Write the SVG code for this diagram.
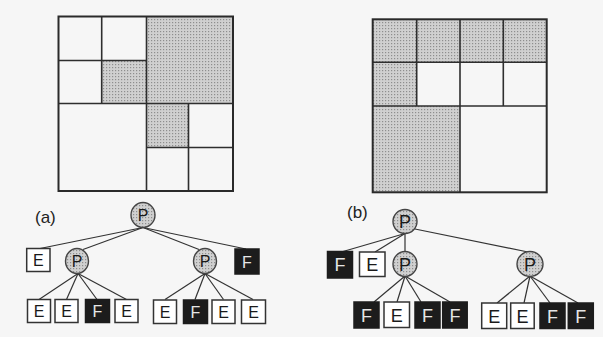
<svg xmlns="http://www.w3.org/2000/svg" width="603" height="337" viewBox="0 0 603 337">
<defs>
<pattern id="dots" width="3" height="3" patternUnits="userSpaceOnUse">
<rect width="3" height="3" fill="#d0d0d0"/>
<rect x="1" y="1" width="1.2" height="1.2" fill="#8e8e8e"/>
</pattern>
<style>
.shade{fill:url(#dots);stroke:none}
.gl{stroke:#2e2e2e;stroke-width:1.6;fill:none}
.go{stroke:#2a2a2a;stroke-width:2;fill:none}
.e rect{fill:#ffffff;stroke:#333;stroke-width:1.5}
.f rect{fill:#1c1c1c;stroke:#1c1c1c;stroke-width:1.5}
.p ellipse{fill:url(#dots);stroke:#444;stroke-width:1.4}
.e text{fill:#1a1a1a}
.f text{fill:#e6e6e6}
.p text{fill:#1a1a1a}
text{font-family:"Liberation Sans",Arial,sans-serif;text-anchor:middle}
.ta text{font-size:16px}
.tb text{font-size:18px}
.lbl{font-size:17px;text-anchor:start;fill:#222}
#connectors line{stroke:#333;stroke-width:1.2}
</style>
</defs>
<rect width="603" height="337" fill="#f6f6f6"/>

<g id="grid-a">
<rect class="shade" x="101.7" y="60.5" width="44.8" height="43"/>
<rect class="shade" x="146.5" y="16.5" width="86.5" height="87"/>
<rect class="shade" x="146.5" y="103.5" width="42" height="44"/>
<line class="gl" x1="58.5" y1="103.5" x2="233" y2="103.5"/>
<line class="gl" x1="146.5" y1="16.5" x2="146.5" y2="191"/>
<line class="gl" x1="101.7" y1="16.5" x2="101.7" y2="103.5"/>
<line class="gl" x1="58.5" y1="60.5" x2="146.5" y2="60.5"/>
<line class="gl" x1="188.5" y1="103.5" x2="188.5" y2="191"/>
<line class="gl" x1="146.5" y1="147.5" x2="233" y2="147.5"/>
<rect class="go" x="58.5" y="16.5" width="174.5" height="174.5"/>
</g>

<g id="grid-b">
<rect class="shade" x="372.7" y="19.3" width="174" height="43"/>
<rect class="shade" x="372.7" y="62.3" width="44" height="43.7"/>
<rect class="shade" x="372.7" y="106" width="87.3" height="86.3"/>
<line class="gl" x1="372.7" y1="62.3" x2="546.7" y2="62.3"/>
<line class="gl" x1="372.7" y1="106" x2="546.7" y2="106"/>
<line class="gl" x1="460" y1="19.3" x2="460" y2="192.3"/>
<line class="gl" x1="416.7" y1="19.3" x2="416.7" y2="106"/>
<line class="gl" x1="503.3" y1="19.3" x2="503.3" y2="106"/>
<rect class="go" x="372.7" y="19.3" width="174" height="173"/>
</g>

<text class="lbl" x="35" y="223">(a)</text>
<text class="lbl" x="347" y="218">(b)</text>

<g id="connectors">
<line x1="143" y1="227.5" x2="40" y2="248.5"/>
<line x1="143" y1="227.5" x2="83" y2="249.5"/>
<line x1="143" y1="227.5" x2="199" y2="249.5"/>
<line x1="143" y1="227.5" x2="246" y2="249"/>
<line x1="78" y1="273.5" x2="39" y2="299.5"/>
<line x1="78" y1="273.5" x2="66.5" y2="299.5"/>
<line x1="78" y1="273.5" x2="97" y2="299.5"/>
<line x1="78" y1="273.5" x2="126.5" y2="299.5"/>
<line x1="205" y1="273.5" x2="165" y2="299.5"/>
<line x1="205" y1="273.5" x2="195" y2="299.5"/>
<line x1="205" y1="273.5" x2="223.5" y2="299.5"/>
<line x1="205" y1="273.5" x2="253" y2="299.5"/>
<line x1="405" y1="233.5" x2="343" y2="251.5"/>
<line x1="405" y1="233.5" x2="375" y2="252"/>
<line x1="405" y1="233.5" x2="405" y2="252"/>
<line x1="415" y1="229" x2="528" y2="252"/>
<line x1="405" y1="276" x2="374" y2="302"/>
<line x1="405" y1="276" x2="397" y2="302"/>
<line x1="405" y1="276" x2="421" y2="302"/>
<line x1="405" y1="276" x2="450" y2="302"/>
<line x1="530" y1="276" x2="497" y2="303"/>
<line x1="530" y1="276" x2="524" y2="303"/>
<line x1="530" y1="276" x2="550" y2="303"/>
<line x1="530" y1="276" x2="578" y2="303"/>
</g>

<g class="ta">
<g id="a-root" class="p"><ellipse cx="143" cy="215" rx="12" ry="12.5"/><text x="143" y="221">P</text></g>
<g id="a-e1" class="e"><rect x="26.7" y="248.5" width="23.3" height="23"/><text x="38.3" y="266">E</text></g>
<g id="a-p1" class="p"><ellipse cx="77" cy="261" rx="11.5" ry="12.5"/><text x="77" y="267">P</text></g>
<g id="a-p2" class="p"><ellipse cx="205" cy="261" rx="11.5" ry="12.5"/><text x="205" y="267">P</text></g>
<g id="a-f1" class="f"><rect x="235" y="249" width="24" height="25"/><text x="247" y="267.5">F</text></g>
<g id="a-l1" class="e"><rect x="27.5" y="299.5" width="23" height="23"/><text x="39" y="317">E</text></g>
<g id="a-l2" class="e"><rect x="55" y="299.5" width="23" height="23"/><text x="66.5" y="317">E</text></g>
<g id="a-l3" class="f"><rect x="85.5" y="299.5" width="24" height="23"/><text x="97.5" y="317">F</text></g>
<g id="a-l4" class="e"><rect x="115" y="299.5" width="23" height="23"/><text x="126.5" y="317">E</text></g>
<g id="a-l5" class="e"><rect x="153.5" y="300" width="23" height="23.5"/><text x="165" y="317.5">E</text></g>
<g id="a-l6" class="f"><rect x="183.5" y="300" width="24" height="23.5"/><text x="195.5" y="317.5">F</text></g>
<g id="a-l7" class="e"><rect x="212" y="300" width="23" height="23.5"/><text x="223.5" y="317.5">E</text></g>
<g id="a-l8" class="e"><rect x="241.5" y="300" width="24" height="23.5"/><text x="253.5" y="317.5">E</text></g>
</g>

<g class="tb">
<g id="b-root" class="p"><ellipse cx="405" cy="221.5" rx="12" ry="12"/><text x="405" y="228">P</text></g>
<g id="b-f1" class="f"><rect x="327.5" y="251.5" width="25" height="26.5"/><text x="340" y="271">F</text></g>
<g id="b-e1" class="e"><rect x="359.5" y="252" width="25.5" height="24.5"/><text x="372.2" y="270.5">E</text></g>
<g id="b-p1" class="p"><ellipse cx="405" cy="264" rx="12" ry="12.5"/><text x="405" y="270.5">P</text></g>
<g id="b-p2" class="p"><ellipse cx="530" cy="264" rx="13" ry="12.5"/><text x="530" y="270.5">P</text></g>
<g id="b-l1" class="f"><rect x="354" y="302" width="25" height="26"/><text x="366.5" y="321.5">F</text></g>
<g id="b-l2" class="e"><rect x="384" y="302" width="25.5" height="25.5"/><text x="396.7" y="321.5">E</text></g>
<g id="b-l3" class="f"><rect x="415" y="302" width="25" height="26"/><text x="427.5" y="321.5">F</text></g>
<g id="b-l4" class="f"><rect x="442.7" y="302" width="24.5" height="26"/><text x="455" y="321.5">F</text></g>
<g id="b-l5" class="e"><rect x="481.7" y="303" width="25" height="25.5"/><text x="494.2" y="322.5">E</text></g>
<g id="b-l6" class="e"><rect x="510.7" y="303" width="23.5" height="25.5"/><text x="522.5" y="322.5">E</text></g>
<g id="b-l7" class="f"><rect x="540" y="303" width="25" height="25.5"/><text x="552.5" y="322.5">F</text></g>
<g id="b-l8" class="f"><rect x="568.3" y="303" width="25" height="25.5"/><text x="580.8" y="322.5">F</text></g>
</g>
</svg>
